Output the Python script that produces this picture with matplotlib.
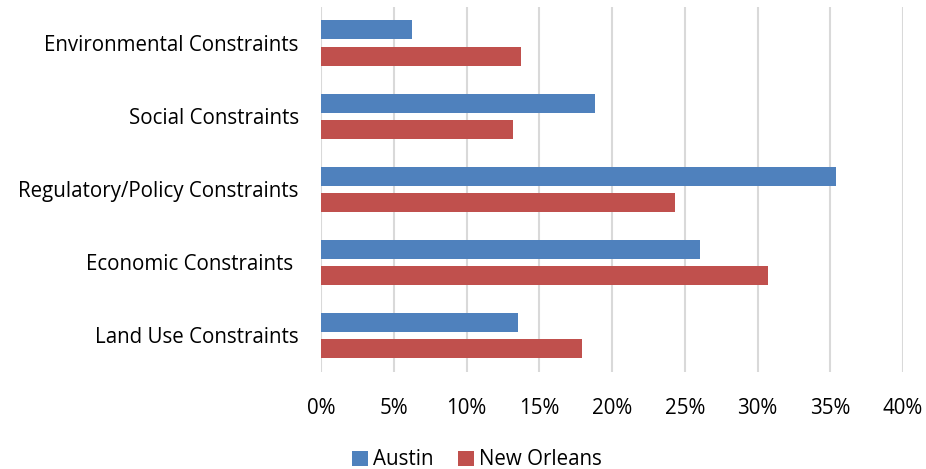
import numpy as np
import matplotlib
matplotlib.use("Agg")
from matplotlib import pyplot as plt
from matplotlib.ticker import PercentFormatter

# categories listed bottom to top
categories = ['Land Use Constraints', 'Economic Constraints ', 'Regulatory/Policy Constraints',
              'Social Constraints', 'Environmental Constraints']
austin = [13.55, 26.05, 35.4, 18.8, 6.25]
new_orleans = [17.95, 30.7, 24.35, 13.2, 13.77]
x_ticks = [0, 5, 10, 15, 20, 25, 30, 35, 40]

plt.rcParams['font.family'] = ['Open Sans', 'DejaVu Sans']

fig = plt.figure(figsize=(9.26, 4.69), dpi=100)
ax = fig.add_axes([0.3467, 0.2068, 0.6285, 0.7792])

y = np.arange(len(categories))
h = 0.26
ax.barh(y + 0.18, austin, height=h, color='#4F81BD', label='Austin', zorder=3)
ax.barh(y - 0.18, new_orleans, height=h, color='#C0504D', label='New Orleans', zorder=3)

ax.set_xlim(0, 40)
ax.set_ylim(-0.5, len(categories) - 0.5)
ax.set_xticks(x_ticks)
ax.xaxis.set_major_formatter(PercentFormatter(decimals=0))
ax.set_yticks(y)
ax.set_yticklabels(categories)
ax.grid(axis='x', color='#D9D9D9', linewidth=1.5, zorder=0)
ax.tick_params(axis='both', length=0, labelsize=14.8, colors='black')
ax.tick_params(axis='y', pad=16)
ax.tick_params(axis='x', pad=19)
for s in ax.spines.values():
    s.set_visible(False)

fig.legend(loc='lower center', bbox_to_anchor=(0.515, -0.042), ncol=2, frameon=False,
           fontsize=14.8, handlelength=0.75, handleheight=0.75, handletextpad=0.25, columnspacing=1.2)

fig.savefig('out.png', dpi=100)
